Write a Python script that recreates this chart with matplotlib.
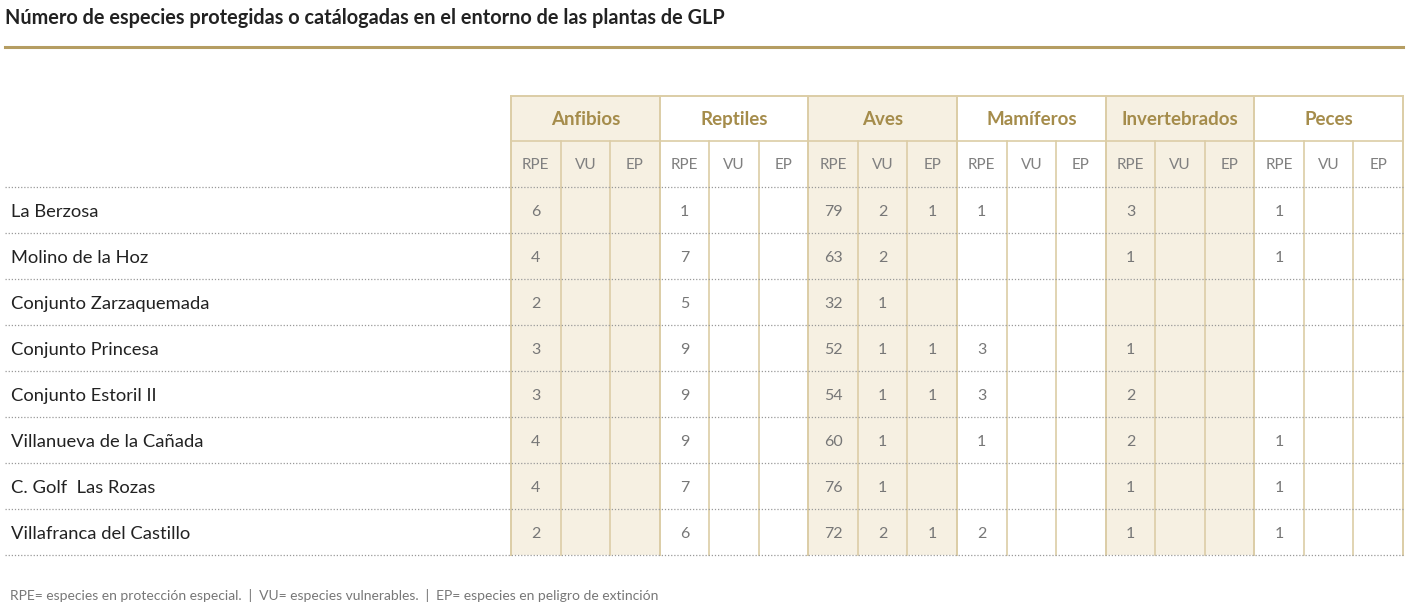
import matplotlib.pyplot as plt
from matplotlib.patches import Rectangle

title = "Número de especies protegidas o catálogadas en el entorno de las plantas de GLP"
groups = ["Anfibios", "Reptiles", "Aves", "Mamíferos", "Invertebrados", "Peces"]
subcols = ["RPE", "VU", "EP"]
sites = ["La Berzosa", "Molino de la Hoz", "Conjunto Zarzaquemada", "Conjunto Princesa",
         "Conjunto Estoril II", "Villanueva de la Cañada", "C. Golf  Las Rozas",
         "Villafranca del Castillo"]
# one row per site, (RPE, VU, EP) per group, None = empty
anfibios = [(6, None, None), (4, None, None), (2, None, None), (3, None, None),
            (3, None, None), (4, None, None), (4, None, None), (2, None, None)]
reptiles = [(1, None, None), (7, None, None), (5, None, None), (9, None, None),
            (9, None, None), (9, None, None), (7, None, None), (6, None, None)]
aves = [(79, 2, 1), (63, 2, None), (32, 1, None), (52, 1, 1),
        (54, 1, 1), (60, 1, None), (76, 1, None), (72, 2, 1)]
mamiferos = [(1, None, None), (None, None, None), (None, None, None), (3, None, None),
             (3, None, None), (1, None, None), (None, None, None), (2, None, None)]
invertebrados = [(3, None, None), (1, None, None), (None, None, None), (1, None, None),
                 (2, None, None), (2, None, None), (1, None, None), (1, None, None)]
peces = [(1, None, None), (1, None, None), (None, None, None), (None, None, None),
         (None, None, None), (1, None, None), (1, None, None), (1, None, None)]
footnote = "RPE= especies en protección especial.  |  VU= especies vulnerables.  |  EP= especies en peligro de extinción"

data = [anfibios, reptiles, aves, mamiferos, invertebrados, peces]

W, H = 1410, 611
fig = plt.figure(figsize=(W / 100, H / 100), dpi=100)
ax = fig.add_axes([0, 0, 1, 1])
ax.set_xlim(0, W)
ax.set_ylim(H, 0)
ax.axis("off")

gold = "#a58c4b"
shade = "#f6f0e2"
border = "#dccda6"
x0, gw = 511, (1403 - 511) / 6
sw = gw / 3
top, hdr1, hdr2, rh = 96, 141, 187, 46
bottom = hdr2 + rh * len(sites)

ax.text(5, 18, title, fontsize=14.3, fontweight="bold", color="#222222",
        va="center", family="Lato")
ax.plot([5, 1403], [47, 47], color="#b59d62", lw=2.2)

for g, name in enumerate(groups):
    gx = x0 + g * gw
    if g % 2 == 0:
        ax.add_patch(Rectangle((gx, top), gw, bottom - top, color=shade, lw=0, zorder=0))
    ax.text(gx + gw / 2, (top + hdr1) / 2 + 1, name, ha="center", va="center",
            fontsize=13.5, fontweight="bold", color=gold, family="Lato")
    for s, sc in enumerate(subcols):
        sx = gx + s * sw
        ax.text(sx + sw / 2, (hdr1 + hdr2) / 2 + 1, sc, ha="center", va="center",
                fontsize=11, color="#808080", family="Lato")
        if s > 0:
            ax.plot([sx, sx], [hdr1, bottom], color=border, lw=1.2, zorder=1)
    ax.plot([gx, gx], [top, bottom], color=border, lw=1.4, zorder=1)
    ax.plot([gx, gx + gw], [hdr1, hdr1], color=border, lw=1.2, zorder=1)
ax.plot([x0 + 6 * gw] * 2, [top, bottom], color=border, lw=1.4)
ax.plot([x0, x0 + 6 * gw], [top, top], color=border, lw=1.4)

for r, site in enumerate(sites):
    yc = hdr2 + rh * (r + 0.5) + 2
    ax.text(11, yc, site, va="center", fontsize=13.2, color="#222222", family="Lato")
    for g in range(6):
        for s in range(3):
            v = data[g][r][s]
            if v is not None:
                ax.text(x0 + g * gw + (s + 0.5) * sw, yc, str(v), ha="center",
                        va="center", fontsize=11.5, color="#777777", family="Lato")
for r in range(len(sites) + 1):
    y = hdr2 + rh * r
    ax.plot([5, 1403], [y, y], color="#999999", lw=0.9, ls=(0, (1, 1.5)), zorder=2)

ax.text(10, 595, footnote, va="center", fontsize=10, color="#777777", family="Lato")

fig.savefig("out.png", dpi=100)
